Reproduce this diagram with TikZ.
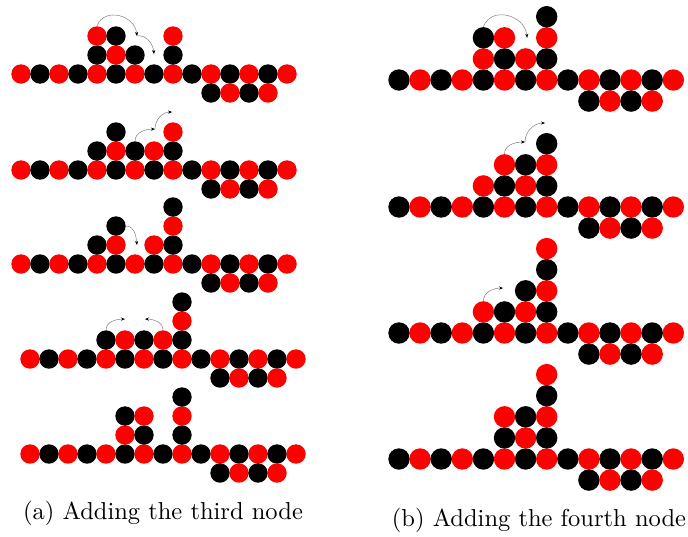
\documentclass[tikz,border=0pt]{standalone}
\usepackage{fontspec}
\newfontfamily\capfont[Extension=.otf]{lmroman10-regular}
\usetikzlibrary{arrows.meta}
\newcommand\bn[4]{\node[#1,fill=#4] (#2) at (#3) {};}
\newcommand\lrows[1]{%
  \foreach \i in {0,...,14}{\ifodd\i\def\cl{black}\else\def\cl{red}\fi
    \node[ba,fill=\cl] (#1m\i) at (\i,0) {};}
  \foreach \i in {10,...,13}{\ifodd\i\def\cl{red}\else\def\cl{black}\fi
    \node[ba,fill=\cl] (#1d\i) at (\i,-1) {};}}
\newcommand\rrows[1]{%
  \foreach \i in {0,...,13}{\ifodd\i\def\cl{red}\else\def\cl{black}\fi
    \node[bb,fill=\cl] (#1m\i) at (\i,0) {};}
  \foreach \i in {9,...,12}{\ifodd\i\def\cl{black}\else\def\cl{red}\fi
    \node[bb,fill=\cl] (#1d\i) at (\i,-1) {};}}
\begin{document}
\begin{tikzpicture}
\tikzset{
  ba/.style={circle,inner sep=0pt,minimum size=19.4pt,draw=none},
  bb/.style={circle,inner sep=0pt,minimum size=21.4pt,draw=none},
  mv/.style={draw=gray,line width=0.5pt,-{Stealth[black,length=4pt,width=3.2pt]}},
  captext/.style={font=\capfont\fontsize{24.5}{29}\selectfont,inner sep=0pt}
}
\useasboundingbox (0,0) rectangle (688pt,-536pt);
% ---------- (a) panel 1
\begin{scope}[shift={(21pt,-74pt)},x=19pt,y=19pt]
  \lrows{a1}
  \bn{ba}{a1u41}{4,1}{black}\bn{ba}{a1u51}{5,1}{red}\bn{ba}{a1u61}{6,1}{black}\bn{ba}{a1u81}{8,1}{black}
  \bn{ba}{a1u42}{4,2}{red}\bn{ba}{a1u52}{5,2}{black}\bn{ba}{a1u82}{8,2}{red}
  \coordinate (a1p) at (6.1,2.0);
  \coordinate (a1q) at (7,1.05);
  \draw[mv] (a1u42.north) to[out=70,in=95,looseness=1.3] (a1p);
  \draw[mv] (a1p) to[out=10,in=95] (a1q);
\end{scope}
% ---------- (a) panel 2
\begin{scope}[shift={(21pt,-170pt)},x=19pt,y=19pt]
  \lrows{a2}
  \bn{ba}{a2u41}{4,1}{black}\bn{ba}{a2u51}{5,1}{red}\bn{ba}{a2u61}{6,1}{black}\bn{ba}{a2u71}{7,1}{red}\bn{ba}{a2u81}{8,1}{black}
  \bn{ba}{a2u52}{5,2}{black}\bn{ba}{a2u82}{8,2}{red}
  \coordinate (a2p) at (7.05,2.15);
  \coordinate (a2q) at (7.95,3.05);
  \draw[mv] (a2u61.north) to[out=90,in=180] (a2p);
  \draw[mv] (a2p) to[out=90,in=180] (a2q);
\end{scope}
% ---------- (a) panel 3
\begin{scope}[shift={(21pt,-264pt)},x=19pt,y=19pt]
  \lrows{a3}
  \bn{ba}{a3u41}{4,1}{black}\bn{ba}{a3u51}{5,1}{red}\bn{ba}{a3u71}{7,1}{red}\bn{ba}{a3u81}{8,1}{black}
  \bn{ba}{a3u52}{5,2}{black}\bn{ba}{a3u82}{8,2}{red}
  \bn{ba}{a3u83}{8,3}{black}
  \coordinate (a3p) at (6.1,1.0);
  \draw[mv] (a3u52.east) to[out=0,in=95] (a3p);
\end{scope}
% ---------- (a) panel 4
\begin{scope}[shift={(30pt,-359pt)},x=19pt,y=19pt]
  \lrows{a4}
  \bn{ba}{a4u41}{4,1}{black}\bn{ba}{a4u51}{5,1}{red}\bn{ba}{a4u61}{6,1}{black}\bn{ba}{a4u71}{7,1}{red}\bn{ba}{a4u81}{8,1}{black}
  \bn{ba}{a4u82}{8,2}{red}
  \bn{ba}{a4u83}{8,3}{black}
  \coordinate (a4p) at (5,2.1);
  \coordinate (a4q) at (6.05,2.1);
  \draw[mv] (a4u41.north) to[out=90,in=180] (a4p);
  \draw[mv] (a4u71.north) to[out=90,in=0] (a4q);
\end{scope}
% ---------- (a) panel 5
\begin{scope}[shift={(30pt,-454pt)},x=19pt,y=19pt]
  \lrows{a5}
  \bn{ba}{a5u51}{5,1}{red}\bn{ba}{a5u61}{6,1}{black}\bn{ba}{a5u81}{8,1}{black}
  \bn{ba}{a5u52}{5,2}{black}\bn{ba}{a5u62}{6,2}{red}\bn{ba}{a5u82}{8,2}{red}
  \bn{ba}{a5u83}{8,3}{black}
\end{scope}
% ---------- (b) panel 1
\begin{scope}[shift={(399pt,-80pt)},x=21.1pt,y=21.1pt]
  \rrows{b1}
  \bn{bb}{b1u41}{4,1}{red}\bn{bb}{b1u51}{5,1}{black}\bn{bb}{b1u61}{6,1}{red}\bn{bb}{b1u71}{7,1}{black}
  \bn{bb}{b1u42}{4,2}{black}\bn{bb}{b1u52}{5,2}{red}\bn{bb}{b1u72}{7,2}{red}
  \bn{bb}{b1u73}{7,3}{black}
  \coordinate (b1p) at (6.07,2.0);
  \draw[mv] (b1u42.north) to[out=70,in=95,looseness=1.3] (b1p);
\end{scope}
% ---------- (b) panel 2
\begin{scope}[shift={(399pt,-207pt)},x=21.1pt,y=21.1pt]
  \rrows{b2}
  \bn{bb}{b2u41}{4,1}{red}\bn{bb}{b2u51}{5,1}{black}\bn{bb}{b2u61}{6,1}{red}\bn{bb}{b2u71}{7,1}{black}
  \bn{bb}{b2u52}{5,2}{red}\bn{bb}{b2u62}{6,2}{black}\bn{bb}{b2u72}{7,2}{red}
  \bn{bb}{b2u73}{7,3}{black}
  \coordinate (b2p) at (5.97,3.08);
  \coordinate (b2q) at (6.92,3.98);
  \draw[mv] (b2u52.north) to[out=90,in=180] (b2p);
  \draw[mv] (b2p) to[out=90,in=180] (b2q);
\end{scope}
% ---------- (b) panel 3
\begin{scope}[shift={(399pt,-333pt)},x=21.1pt,y=21.1pt]
  \rrows{b3}
  \bn{bb}{b3u41}{4,1}{red}\bn{bb}{b3u51}{5,1}{black}\bn{bb}{b3u61}{6,1}{red}\bn{bb}{b3u71}{7,1}{black}
  \bn{bb}{b3u62}{6,2}{black}\bn{bb}{b3u72}{7,2}{red}
  \bn{bb}{b3u73}{7,3}{black}
  \bn{bb}{b3u74}{7,4}{red}
  \coordinate (b3p) at (4.93,2.13);
  \draw[mv] (b3u41.north) to[out=90,in=180] (b3p);
\end{scope}
% ---------- (b) panel 4
\begin{scope}[shift={(399pt,-459pt)},x=21.1pt,y=21.1pt]
  \rrows{b4}
  \bn{bb}{b4u51}{5,1}{black}\bn{bb}{b4u61}{6,1}{red}\bn{bb}{b4u71}{7,1}{black}
  \bn{bb}{b4u52}{5,2}{red}\bn{bb}{b4u62}{6,2}{black}\bn{bb}{b4u72}{7,2}{red}
  \bn{bb}{b4u73}{7,3}{black}
  \bn{bb}{b4u74}{7,4}{red}
\end{scope}
% ---------- captions
\node[captext] (capa) at (163pt,-513pt) {(a) Adding the third node};
\node[captext] (capb) at (539pt,-520pt) {(b) Adding the fourth node};
\end{tikzpicture}
\end{document}
